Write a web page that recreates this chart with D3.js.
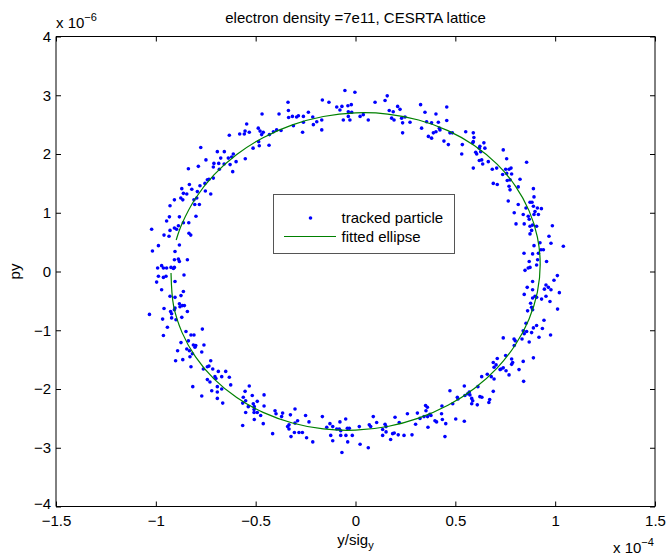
<!DOCTYPE html>
<html>
<head>
<meta charset="utf-8">
<script src="https://cdn.jsdelivr.net/npm/d3@7/dist/d3.min.js"></script>
<style>
  html, body { margin: 0; padding: 0; background: #fff; }
  svg { display: block; font-family: "Liberation Sans", Arial, Helvetica, sans-serif; }
</style>
</head>
<body>
<svg id="chart" width="669" height="557"></svg>
<script>
// ---------------- data ----------------
const chartTitle = "electron density =7e11, CESRTA lattice";
const xLabelMain = "y/sig";
const xLabelSub = "y";
const yLabel = "py";
const xExponent = "-4";
const yExponent = "-6";
const xTicks = [-1.5, -1, -0.5, 0, 0.5, 1, 1.5];
const xTickLabels = ["\u22121.5", "\u22121", "\u22120.5", "0", "0.5", "1", "1.5"];
const yTicks = [-4, -3, -2, -1, 0, 1, 2, 3, 4];
const yTickLabels = ["\u22124", "\u22123", "\u22122", "\u22121", "0", "1", "2", "3", "4"];
const legendLabels = ["tracked particle", "fitted ellipse"];

// tracked particles: y (units of 1e-4) and py (units of 1e-6)
const particleY = [
-0.053,-0.166,-0.133,-0.338,-0.094,-0.068,-0.038,-0.021,-0.078,-0.036,-0.019,-0.061,-0.028,-0.036,-0.468,-0.383,-0.336,-0.335,-0.316,-0.295,
-0.286,-0.261,-0.236,-0.214,-0.194,-0.169,-0.261,-0.311,-0.265,-0.211,-0.169,-0.395,-0.411,-0.373,-0.431,-0.462,-0.470,-0.487,-0.478,-0.485,
-0.482,-0.513,-0.433,-0.532,-0.545,-0.557,-0.553,-0.580,-0.632,-0.775,-0.749,-0.692,-0.657,-0.709,-0.685,-0.675,-0.637,-0.628,-0.620,-0.598,
-0.612,-0.552,-0.615,-0.682,-0.658,-0.712,-0.837,-0.787,-0.734,-0.742,-0.712,-0.754,-0.779,-0.832,-0.820,-0.870,-0.862,-0.907,-0.875,-0.865,
-0.845,-0.809,-0.792,-0.795,-0.805,-0.782,-0.725,-0.752,-0.929,-0.932,-0.946,-0.882,-0.862,-0.835,-0.799,-0.834,-0.825,-0.887,-0.896,-0.907,
-0.929,-0.959,-0.934,-0.882,-0.904,-0.907,-0.887,-0.882,-0.842,-1.021,-0.987,-1.017,-0.971,-0.991,-0.962,-0.946,-0.924,-0.912,-0.907,
-0.003,0.023,0.039,0.064,0.098,0.148,0.159,0.169,0.189,0.181,0.193,0.211,0.223,0.231,0.248,0.236,0.236,0.273,0.326,0.348,
0.403,0.457,0.331,0.356,0.381,0.415,0.403,0.390,0.365,0.381,0.420,0.423,0.457,0.473,0.485,0.443,0.465,0.552,0.590,0.593,
0.590,0.587,0.535,0.532,0.602,0.607,0.620,0.623,0.643,0.648,0.627,0.632,0.620,0.637,0.665,0.590,0.685,0.707,0.740,0.757,
0.752,0.769,0.779,0.757,0.782,0.737,0.774,0.760,0.824,0.690,0.710,0.774,0.769,0.815,0.765,0.857,0.815,0.795,0.840,0.854,
0.891,0.894,0.874,0.884,0.891,0.911,0.931,0.899,0.865,0.894,0.916,0.870,0.845,0.874,0.804,0.887,0.882,0.874,0.907,0.986,
0.969,0.979,0.941,0.924,0.929,0.894,0.916,0.887,0.844,0.870,0.912,0.907,0.957,0.874,0.849,0.865,1.041,
-0.987,-0.962,-0.949,-0.996,-0.971,-0.904,-0.859,-0.929,-0.904,-0.874,-0.862,-0.882,-0.879,-0.867,-0.857,-0.842,-0.959,-0.926,-0.921,-0.907,
-0.904,-0.899,-0.870,-0.921,-0.966,-1.032,-0.942,-0.962,-0.849,-0.824,-0.809,-0.767,-0.874,-0.837,-0.832,-0.845,-0.829,-0.817,-0.804,-0.800,
-0.812,-0.770,-0.759,-0.891,-0.901,-0.865,-0.824,-0.742,-0.734,-0.725,-0.715,-0.762,-0.742,-0.729,-0.704,-0.687,-0.699,-0.670,-0.650,-0.632,
-0.625,-0.692,-0.670,-0.720,-0.692,-0.692,-0.665,-0.815,-0.770,-0.553,-0.532,-0.562,-0.550,-0.565,-0.537,-0.517,-0.492,-0.512,-0.507,-0.508,
-0.508,-0.492,-0.475,-0.458,-0.458,-0.462,-0.507,-0.550,-0.565,-0.415,-0.403,-0.398,-0.370,-0.365,-0.326,-0.303,-0.290,-0.250,-0.340,-0.333,
-0.303,-0.333,-0.306,-0.323,-0.283,-0.266,-0.245,-0.214,-0.233,-0.166,-0.144,-0.128,-0.114,-0.124,-0.114,-0.094,-0.081,-0.074,-0.078,-0.049,
-0.041,-0.074,-0.048,-0.016,-0.031,-0.068,-0.039,
0.019,0.023,0.064,0.069,0.076,0.089,0.106,0.136,0.148,0.153,0.136,0.153,0.176,0.186,0.194,0.214,0.198,0.219,0.243,0.260,
0.283,0.301,0.310,0.323,0.343,0.351,0.360,0.353,0.361,0.373,0.378,0.363,0.398,0.406,0.433,0.431,0.435,0.452,0.448,0.473,
0.487,0.502,0.510,0.513,0.545,0.545,0.548,0.562,0.570,0.573,0.582,0.587,0.582,0.610,0.613,0.623,0.633,0.668,0.672,0.660,
0.632,0.680,0.694,0.690,0.694,0.704,0.690,0.710,0.724,0.729,0.740,0.752,0.754,0.769,0.782,0.787,0.782,0.819,0.840,0.842,
0.740,0.794,0.795,0.800,0.834,0.845,0.840,0.857,0.870,0.854,0.882,0.891,0.891,0.907,0.919,0.944,0.936,0.977,0.862,0.887,
0.882,0.877,0.887,0.899,0.907,0.932,0.954,0.974,0.845,0.860,0.887,0.946,0.954,0.966,0.979,0.994,1.011,1.021,1.012,0.887
];
const particlePy = [
3.08,2.92,2.88,2.88,2.80,2.81,2.82,2.84,2.75,2.72,2.71,2.58,2.58,2.64,2.68,2.68,2.74,2.62,2.64,2.63,
2.65,2.64,2.71,2.63,2.55,2.58,2.54,2.48,2.37,2.50,2.41,2.41,2.38,2.40,2.33,2.37,2.33,2.44,2.39,2.21,
2.14,2.10,2.15,2.37,2.51,2.34,2.39,2.34,2.32,2.11,1.90,2.04,2.04,1.84,1.84,1.93,1.93,1.82,1.95,1.87,
2.00,1.92,1.70,1.74,1.83,1.78,1.75,1.79,1.57,1.56,1.59,1.50,1.46,1.48,1.40,1.41,1.33,1.22,1.25,1.22,
1.32,1.22,1.36,1.25,1.14,1.14,1.32,1.37,1.12,0.93,0.86,0.93,0.83,0.83,0.94,0.65,0.62,0.78,0.72,0.74,
0.70,0.62,0.60,0.45,0.34,0.20,0.21,0.17,0.20,0.72,0.44,0.35,0.10,0.06,0.06,0.06,0.07,0.05,0.07,
3.05,2.64,2.67,2.58,2.88,2.91,2.99,2.74,2.72,2.61,2.58,2.81,2.76,2.61,2.63,2.36,2.53,2.54,2.84,2.71,
2.68,2.80,2.44,2.55,2.53,2.54,2.38,2.36,2.30,2.27,2.44,2.41,2.57,2.36,2.36,2.22,2.16,2.38,2.36,2.28,
2.21,2.19,2.16,2.00,2.03,2.00,2.10,2.13,2.19,2.10,2.04,1.90,1.89,1.83,1.87,1.76,1.74,1.76,2.07,1.92,
1.74,1.74,1.76,1.67,1.66,1.65,1.56,1.55,1.57,1.50,1.48,1.39,1.45,1.44,1.20,1.86,1.14,1.00,0.97,1.08,
1.41,1.27,1.18,1.18,1.11,1.08,1.07,1.02,0.94,0.97,0.97,0.89,0.81,0.77,0.81,0.79,0.70,0.64,0.77,0.78,
0.60,0.48,0.37,0.49,0.37,0.44,0.31,0.30,0.31,0.17,0.20,0.11,0.17,0.07,0.02,0.06,0.43,
-0.08,-0.10,-0.08,-0.18,-0.31,-0.17,-0.06,-0.42,-0.44,-0.41,-0.34,-0.55,-0.60,-0.58,-0.58,-0.68,-0.63,-0.68,-0.72,-0.65,
-0.62,-0.82,-0.78,-0.79,-0.81,-0.73,-0.95,-1.09,-1.02,-1.08,-1.08,-0.98,-1.21,-1.18,-1.35,-1.32,-1.45,-1.40,-1.29,-1.26,
-1.25,-1.37,-1.25,-1.35,-1.52,-1.50,-1.62,-1.62,-1.61,-1.52,-1.66,-1.66,-1.84,-1.88,-1.79,-1.70,-1.82,-1.79,-1.70,-1.80,
-1.93,-1.96,-2.00,-2.03,-2.05,-2.16,-2.24,-1.96,-2.12,-2.04,-1.95,-2.14,-2.20,-2.24,-2.30,-2.11,-2.21,-2.25,-2.30,-2.35,
-2.40,-2.40,-2.45,-2.10,-2.29,-2.59,-2.52,-2.40,-2.62,-2.76,-2.37,-2.42,-2.47,-2.41,-2.44,-2.34,-2.54,-2.45,-2.64,-2.61,
-2.58,-2.68,-2.74,-2.81,-2.74,-2.74,-2.83,-2.90,-2.56,-2.47,-2.65,-2.59,-2.64,-2.79,-2.88,-2.68,-2.68,-2.71,-2.56,-2.51,
-2.67,-2.79,-2.79,-2.79,-2.67,-3.08,-2.90,
-2.64,-2.94,-3.00,-2.61,-2.64,-2.47,-2.57,-2.69,-2.60,-2.64,-2.79,-2.73,-2.86,-2.76,-2.75,-2.78,-2.48,-2.57,-2.79,-2.42,
-2.78,-2.60,-2.41,-2.50,-2.47,-2.28,-2.31,-2.37,-2.47,-2.43,-2.45,-2.65,-2.54,-2.56,-2.29,-2.42,-2.52,-2.59,-2.81,-2.03,
-2.25,-2.51,-2.14,-2.17,-1.95,-2.55,-2.11,-2.08,-2.05,-2.10,-2.16,-2.20,-2.25,-2.27,-1.96,-2.13,-2.14,-2.23,-2.18,-1.75,
-1.79,-1.79,-1.83,-2.04,-1.63,-1.59,-1.55,-1.48,-1.67,-1.66,-1.64,-1.43,-1.69,-1.76,-1.58,-1.55,-1.49,-1.67,-1.53,-1.87,
-1.13,-1.15,-1.26,-1.18,-1.15,-1.06,-1.01,-1.02,-1.20,-0.88,-1.04,-0.96,-1.47,-0.92,-1.12,-0.83,-0.97,-1.08,-0.67,-0.65,
-0.61,-0.54,-0.45,-0.42,-0.44,-0.47,-0.42,-0.51,-0.39,-0.27,-0.31,-0.30,-0.23,-0.27,-0.31,-0.15,-0.07,-0.36,-0.64,-0.17
];

// fitted ellipse (same units)
const ellipseY = [-0.924,-0.911,-0.869,-0.801,-0.709,-0.595,-0.463,-0.316,-0.161,0.000,0.161,0.316,0.463,0.595,0.709,0.801,0.869,0.911,
  0.925,0.911,0.869,0.801,0.709,0.595,0.463,0.316,0.161,0.000,-0.161,-0.316,-0.463,-0.595,-0.709,-0.801,-0.869,-0.898];
const ellipsePy = [-0.026,-0.587,-1.036,-1.454,-1.828,-2.145,-2.398,-2.578,-2.680,-2.700,-2.638,-2.496,-2.278,-1.991,-1.644,-1.246,-0.811,-0.351,
  0.120,0.587,1.036,1.454,1.828,2.145,2.398,2.578,2.680,2.700,2.638,2.496,2.278,1.991,1.644,1.246,0.811,0.537];

// ---------------- drawing ----------------
const svg = d3.select("#chart");
const L = 56, R = 655, T = 36.5, B = 506.5;
const x = d3.scaleLinear().domain([-1.5, 1.5]).range([L, R]);
const y = d3.scaleLinear().domain([-4, 4]).range([B, T]);
const fontSize = 15;

// particles
const pts = particleY.map((v, i) => [v, particlePy[i]]);
svg.append("g").selectAll("circle").data(pts).join("circle")
  .attr("cx", d => x(d[0])).attr("cy", d => y(d[1])).attr("r", 1.8)
  .attr("fill", "#0000ff");

// fitted ellipse
const ell = ellipseY.map((v, i) => [v, ellipsePy[i]]);
svg.append("path").datum(ell)
  .attr("d", d3.line().x(d => x(d[0])).y(d => y(d[1])).curve(d3.curveCatmullRom))
  .attr("fill", "none").attr("stroke", "#008000").attr("stroke-width", 1.2);

// axes
const fmtX = (d) => xTickLabels[xTicks.indexOf(d)];
const fmtY = (d) => yTickLabels[yTicks.indexOf(d)];
function styleAxis(g) {
  g.select(".domain").remove();
  g.selectAll(".tick line").attr("stroke", "#000").attr("stroke-width", 1);
  g.selectAll(".tick text").attr("fill", "#000").style("font-size", fontSize + "px")
    .style("font-family", '"Liberation Sans", Arial, sans-serif');
}
svg.append("g").attr("transform", `translate(0,${B})`)
  .call(d3.axisBottom(x).tickValues(xTicks).tickFormat(fmtX).tickSizeInner(-5).tickSizeOuter(0).tickPadding(9))
  .call(styleAxis);
svg.append("g").attr("transform", `translate(0,${T})`)
  .call(d3.axisTop(x).tickValues(xTicks).tickFormat("").tickSizeInner(-5).tickSizeOuter(0))
  .call(styleAxis);
const yAxisG = svg.append("g").attr("transform", `translate(${L},0)`)
  .call(d3.axisLeft(y).tickValues(yTicks).tickFormat(fmtY).tickSizeInner(-5).tickSizeOuter(0).tickPadding(5))
  .call(styleAxis);
// lowest y label sits just above the x tick labels, as in the original
yAxisG.selectAll(".tick text").filter(d => d === yTicks[0]).attr("dy", "0.1em");
svg.append("g").attr("transform", `translate(${R},0)`)
  .call(d3.axisRight(y).tickValues(yTicks).tickFormat("").tickSizeInner(-5).tickSizeOuter(0))
  .call(styleAxis);

// box
svg.append("line").attr("x1", L).attr("x2", R).attr("y1", T).attr("y2", T).attr("stroke", "#000");
svg.append("line").attr("x1", L).attr("x2", R).attr("y1", B).attr("y2", B).attr("stroke", "#000");
svg.append("line").attr("x1", L).attr("x2", L).attr("y1", T).attr("y2", B).attr("stroke", "#000");
svg.append("line").attr("x1", R).attr("x2", R).attr("y1", T).attr("y2", B).attr("stroke", "#000");

// title
svg.append("text").attr("x", (L + R) / 2).attr("y", 23).attr("text-anchor", "middle")
  .style("font-size", fontSize + "px").text(chartTitle);

// x label with subscript
const xl = svg.append("text").attr("x", (L + R) / 2).attr("y", 545).attr("text-anchor", "middle")
  .style("font-size", fontSize + "px");
xl.append("tspan").text(xLabelMain);
xl.append("tspan").attr("dy", 4).style("font-size", "11px").text(xLabelSub);

// y label
svg.append("text").attr("transform", `translate(20,${(T + B) / 2}) rotate(-90)`)
  .attr("text-anchor", "middle").style("font-size", fontSize + "px").text(yLabel);

// exponent labels
const ey = svg.append("text").attr("x", L).attr("y", 28).style("font-size", fontSize + "px");
ey.append("tspan").text("x 10");
ey.append("tspan").attr("dy", -7).style("font-size", "11px").text(yExponent.replace("-", "\u2212"));
const ex = svg.append("text").attr("x", 613).attr("y", 553).style("font-size", fontSize + "px");
ex.append("tspan").text("x 10");
ex.append("tspan").attr("dy", -7).style("font-size", "11px").text(xExponent.replace("-", "\u2212"));

// legend
const lg = svg.append("g");
lg.append("rect").attr("x", 273.5).attr("y", 194.5).attr("width", 181).attr("height", 59)
  .attr("fill", "#fff").attr("stroke", "#555").attr("stroke-width", 1);
lg.append("circle").attr("cx", 310.5).attr("cy", 218).attr("r", 1.8).attr("fill", "#0000ff");
lg.append("text").attr("x", 341.5).attr("y", 218).attr("dy", "0.35em")
  .style("font-size", fontSize + "px").text(legendLabels[0]);
lg.append("line").attr("x1", 284).attr("x2", 336).attr("y1", 236.5).attr("y2", 236.5)
  .attr("stroke", "#008000").attr("stroke-width", 1.2);
lg.append("text").attr("x", 341.5).attr("y", 236.5).attr("dy", "0.35em")
  .style("font-size", fontSize + "px").text(legendLabels[1]);
</script>
</body>
</html>
